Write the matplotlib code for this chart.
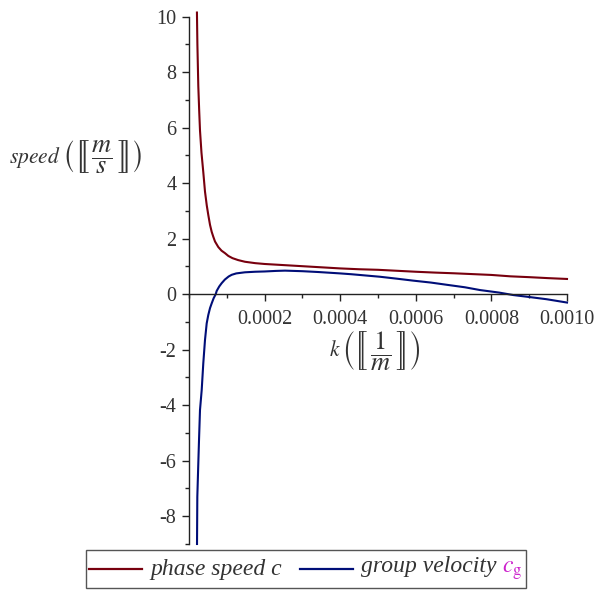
import matplotlib
matplotlib.use("Agg")
import matplotlib.pyplot as plt
import numpy as np
from matplotlib.lines import Line2D
from matplotlib.offsetbox import AnchoredOffsetbox, HPacker, TextArea, DrawingArea
from matplotlib.ticker import MultipleLocator, FixedLocator

plt.rcParams['font.family'] = 'serif'
plt.rcParams['font.serif'] = ['Liberation Serif', 'DejaVu Serif']
plt.rcParams['mathtext.fontset'] = 'stix'
plt.rcParams['axes.unicode_minus'] = False

# wavenumber k, in units of 1e-4 1/m
k_phase = [0.210, 0.222, 0.246, 0.270, 0.291, 0.33, 0.378, 0.423, 0.47, 0.511,
           0.556, 0.60, 0.643, 0.688, 0.775, 0.86, 0.952, 1.04, 1.15, 1.30,
           1.48, 1.75, 2.0, 2.5, 3.0, 3.5, 4.0, 4.5, 5.0, 5.5,
           6.0, 6.5, 7.0, 7.5, 8.0, 8.5, 9.0, 9.5, 10.0]
c_phase = [10.15, 9.0, 7.5, 6.6, 5.9, 5.1, 4.4, 3.7, 3.2, 2.85,
           2.5, 2.25, 2.07, 1.9, 1.7, 1.57, 1.48, 1.38, 1.30, 1.23,
           1.17, 1.12, 1.09, 1.05, 1.01, 0.97, 0.93, 0.90, 0.88, 0.845,
           0.81, 0.78, 0.755, 0.725, 0.695, 0.645, 0.615, 0.58, 0.55]

k_group = [0.212, 0.22, 0.246, 0.265, 0.291, 0.336, 0.378, 0.423, 0.468, 0.51,
           0.556, 0.60, 0.65, 0.706, 0.733, 0.80, 0.865, 0.95, 1.05, 1.13,
           1.25, 1.48, 1.75, 2.0, 2.3, 2.54, 3.0, 3.42, 4.0, 4.30,
           5.05, 5.5, 5.93, 6.4, 6.82, 7.3, 7.70, 8.2, 8.58, 9.0,
           9.46, 10.0]
c_group = [-9.0, -7.3, -6.1, -5.25, -4.17, -3.45, -2.49, -1.65, -1.05, -0.75,
           -0.5, -0.33, -0.15, 0.0, 0.12, 0.28, 0.40, 0.53, 0.64, 0.70,
           0.75, 0.79, 0.81, 0.82, 0.84, 0.85, 0.83, 0.80, 0.75, 0.72,
           0.63, 0.56, 0.49, 0.42, 0.34, 0.25, 0.15, 0.06, -0.03, -0.10,
           -0.18, -0.30]

x_ticks = [0.0002, 0.0004, 0.0006, 0.0008, 0.0010]
x_ticklabels = ['0.0002', '0.0004', '0.0006', '0.0008', '0.0010']
y_ticks = [-8, -6, -4, -2, 0, 2, 4, 6, 8, 10]

red = '#78000E'
blue = '#000E78'
text_gray = '#333333'

fig = plt.figure(figsize=(5.97, 5.90), dpi=100)
ax = fig.add_axes([189 / 597, 1 - 544 / 590, 378 / 597, 527.3 / 590])

ax.plot(np.array(k_phase) * 1e-4, c_phase, color=red, lw=1.5, clip_on=False)
ax.plot(np.array(k_group) * 1e-4, c_group, color=blue, lw=1.5, clip_on=False)

ax.set_xlim(0, 0.0010)
ax.set_ylim(-9, 10)

# axes cross at the origin, Maple style
ax.spines['top'].set_visible(False)
ax.spines['right'].set_visible(False)
ax.spines['bottom'].set_position(('data', 0))
for s in ('left', 'bottom'):
    ax.spines[s].set_color('#222222')
    ax.spines[s].set_linewidth(1.0)

ax.xaxis.set_major_locator(FixedLocator(x_ticks))
ax.set_xticklabels(x_ticklabels)
ax.xaxis.set_minor_locator(MultipleLocator(0.0001))
ax.yaxis.set_major_locator(FixedLocator(y_ticks))
ax.yaxis.set_minor_locator(MultipleLocator(1))
ax.tick_params(which='major', length=5, width=1.0, color='#222222',
               labelsize=14.5, labelcolor=text_gray, pad=4)
ax.tick_params(which='minor', length=3, width=1.0, color='#222222')
ax.tick_params(axis='x', which='major', pad=6)


# axis label with units in double brackets: name(⟦num/den⟧)
def unit_label(name, num, den, x, y):
    word = TextArea(r'$%s$' % name, textprops=dict(fontsize=15.5, color=text_gray))
    units = TextArea(r'$\left(\left[\!\!\left[\,\dfrac{%s}{%s}\,\right]\!\!\right]\right)$' % (num, den),
                     textprops=dict(fontsize=19, color=text_gray))
    box = AnchoredOffsetbox(loc='center', child=HPacker(children=[word, units], sep=1, align='center'),
                            pad=0, borderpad=0, frameon=False,
                            bbox_to_anchor=(x / 597, 1 - y / 590), bbox_transform=fig.transFigure)
    fig.add_artist(box)


unit_label('speed', 'm', 's', 76, 157)
unit_label('k', '1', 'm', 375, 351)


# legend row: line sample followed by italic label
def line_sample(color):
    da = DrawingArea(38, 22, 0, 0)
    da.add_artist(Line2D([0, 38], [11, 11], color=color, lw=1.6))
    return da


label_props = dict(fontsize=17, style='italic', color=text_gray)
entry1 = HPacker(children=[line_sample(red), TextArea('phase speed c', textprops=label_props)],
                 sep=6, align='center')
cg_text = HPacker(children=[TextArea('group velocity', textprops=label_props),
                            TextArea(r'$c_\mathrm{g}$', textprops=dict(fontsize=17, color='#CC22CC'))],
                  sep=4, align='baseline')
entry2 = HPacker(children=[line_sample(blue), cg_text], sep=6, align='center')
row = HPacker(children=[entry1, entry2], sep=13, align='center')

legend_box = AnchoredOffsetbox(loc='center', child=row, pad=0.25, borderpad=0,
                               frameon=True, bbox_to_anchor=(306 / 597, 1 - 569 / 590),
                               bbox_transform=fig.transFigure)
legend_box.patch.set_boxstyle('square', pad=0)
legend_box.patch.set_edgecolor('#555555')
legend_box.patch.set_linewidth(1.0)
fig.add_artist(legend_box)

fig.savefig('out.png', dpi=100)
